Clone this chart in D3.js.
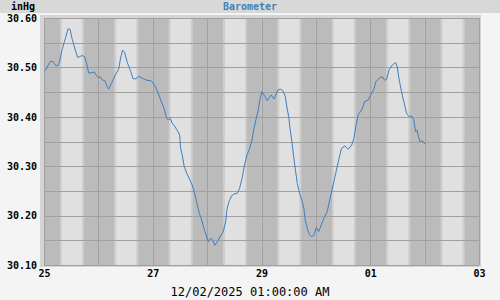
<!DOCTYPE html>
<html>
<head>
<meta charset="utf-8">
<script src="https://cdn.jsdelivr.net/npm/d3@7"></script>
<style>
    body { margin: 0; background: #f4f4f4; }
    svg { display: block; }
    text { font-family: "DejaVu Sans Mono", monospace; }
</style>
</head>
<body>
<svg id="barometer_root" width="500" height="300"></svg>
<script>
// hours after 25 Nov 2025 00:00 and the reading at that moment
var hours = [0.6, 2.8, 4.0, 5.0, 6.0, 6.8, 7.9, 9.4, 10.6, 11.5, 12.4, 13.8, 14.9, 15.8, 16.8, 18.0,
    18.8, 19.7, 21.2, 22.2, 23.1, 24.1, 24.8, 25.9, 26.8, 27.8, 28.5, 30.0, 31.5, 33.0, 33.8, 34.7,
    35.6, 36.6, 38.1, 39.3, 40.6, 41.8, 43.0, 45.3, 47.2, 48.2, 49.4, 50.4, 51.5, 52.4, 53.4, 54.1,
    54.8, 55.7, 56.6, 57.8, 59.0, 59.9, 60.3, 61.0, 61.9, 63.0, 64.4, 65.4, 66.3, 67.4, 68.5, 69.6,
    70.6, 71.5, 72.5, 73.4, 74.4, 75.4, 76.5, 77.6, 79.1, 80.2, 80.7, 81.6, 82.8, 84.0, 85.3, 86.3,
    87.4, 88.5, 89.6, 90.8, 91.8, 92.7, 93.7, 94.7, 95.4, 96.2, 97.4, 98.5, 99.6, 100.3, 101.5, 102.5,
    103.2, 104.3, 105.4, 106.5, 107.2, 108.0, 108.7, 109.4, 110.2, 111.0, 111.8, 112.8, 113.8, 114.7,
    115.3, 116.2, 117.2, 118.0, 119.0, 120.2, 121.3, 123.2, 125.0, 126.9, 128.1, 129.4, 130.6, 131.3,
    132.8, 134.3, 135.8, 136.8, 137.7, 138.7, 140.2, 141.6, 143.1, 144.6, 145.6, 146.5, 147.9, 149.3,
    150.4, 151.2, 152.3, 153.8, 155.2, 155.9, 156.8, 157.8, 158.8, 160.0, 161.2, 162.2, 163.2, 164.0,
    164.7, 165.1, 165.9, 167.1, 168.1];
var inHg = [30.494, 30.512, 30.512, 30.505, 30.503, 30.510, 30.535, 30.558, 30.578, 30.577, 30.558,
    30.535, 30.520, 30.522, 30.524, 30.521, 30.508, 30.489, 30.489, 30.491, 30.484, 30.479, 30.481,
    30.474, 30.474, 30.462, 30.456, 30.470, 30.485, 30.497, 30.519, 30.535, 30.530, 30.512, 30.494,
    30.477, 30.477, 30.482, 30.479, 30.474, 30.473, 30.468, 30.458, 30.448, 30.434, 30.424, 30.410,
    30.397, 30.394, 30.397, 30.387, 30.380, 30.371, 30.363, 30.336, 30.323, 30.299, 30.286, 30.272,
    30.262, 30.248, 30.228, 30.205, 30.191, 30.174, 30.161, 30.147, 30.154, 30.151, 30.140, 30.147,
    30.157, 30.167, 30.188, 30.211, 30.228, 30.240, 30.244, 30.245, 30.255, 30.275, 30.302, 30.323,
    30.336, 30.353, 30.377, 30.397, 30.417, 30.437, 30.451, 30.442, 30.433, 30.440, 30.444, 30.436,
    30.446, 30.454, 30.456, 30.453, 30.441, 30.420, 30.400, 30.373, 30.350, 30.319, 30.292, 30.265,
    30.245, 30.232, 30.215, 30.191, 30.174, 30.161, 30.158, 30.159, 30.176, 30.168, 30.191, 30.208,
    30.248, 30.272, 30.299, 30.323, 30.336, 30.341, 30.334, 30.343, 30.356, 30.383, 30.404, 30.414,
    30.431, 30.434, 30.448, 30.456, 30.471, 30.478, 30.481, 30.474, 30.476, 30.495, 30.505, 30.510,
    30.501, 30.474, 30.451, 30.431, 30.407, 30.400, 30.402, 30.394, 30.370, 30.373, 30.363, 30.350,
    30.351, 30.345];

var yTicks = [30.10, 30.20, 30.30, 30.40, 30.50, 30.60];
var xTickDays = [25, 27, 29, 31, 33];     // days counted from 1 Nov, 31 = 01 Dec
// hour of day for dawn, sunrise, sunset, dusk
var twilight = [7.1, 7.9, 16.8, 17.6];

var chartTitle = "Barometer";
var unitLabel = "inHg";
var timeLabel = "12/02/2025 01:00:00 AM";

var margin_left = 44, margin_top = 18, plot_right = 479, plot_bottom = 265;

var start = new Date(2025, 10, 25);
var end = new Date(2025, 11, 3);
function at(dayOffset, hour) {
    return new Date(2025, 10, 25 + dayOffset, 0, 0, 0, 0).getTime() + hour * 3600e3;
}

var svg = d3.select('#barometer_root');

// header strip
svg.append("rect").attr("x", 0).attr("y", 0).attr("width", 500).attr("height", 13).attr("fill", "#d8d8d8");
svg.append("text").attr("x", 11).attr("y", 10)
    .attr("font-size", 10).attr("font-weight", "bold").attr("fill", "#000")
    .text(unitLabel);
svg.append("text").attr("x", 250).attr("y", 10).attr("text-anchor", "middle")
    .attr("font-size", 10).attr("font-weight", "bold").attr("fill", "#4682b4")
    .text(chartTitle);

// frame around the plot
svg.append("rect").attr("x", 40).attr("y", 15).attr("width", 441).attr("height", 252).attr("fill", "#d4d4d4");

var x = d3.scaleTime()
    .domain([start, end])
    .range([margin_left, plot_right]);
var y = d3.scaleLinear()
    .domain([30.10, 30.60])
    .range([plot_bottom, margin_top]);

var plot = svg.append("g");
plot.append("clipPath").attr("id", "plot_clip")
    .append("rect").attr("x", margin_left).attr("y", margin_top)
    .attr("width", plot_right - margin_left).attr("height", plot_bottom - margin_top);

// night / twilight / day bands
var bands = [];
for (var d = -1; d < 9; d++) {
    bands.push({from: at(d, 0), to: at(d, twilight[0]), fill: "#bbbbbb"});
    bands.push({from: at(d, twilight[0]), to: at(d, twilight[1]), fill: "#cecece"});
    bands.push({from: at(d, twilight[1]), to: at(d, twilight[2]), fill: "#e0e0e0"});
    bands.push({from: at(d, twilight[2]), to: at(d, twilight[3]), fill: "#cecece"});
    bands.push({from: at(d, twilight[3]), to: at(d, 24), fill: "#bbbbbb"});
}
plot.append("g").attr("clip-path", "url(#plot_clip)")
    .selectAll("rect")
    .data(bands)
    .enter()
    .append("rect")
    .attr("x", function(b) { return x(b.from); })
    .attr("width", function(b) { return x(b.to) - x(b.from); })
    .attr("y", margin_top)
    .attr("height", plot_bottom - margin_top)
    .attr("fill", function(b) { return b.fill; });

// grid: one vertical line per day, horizontal every 0.05
var gridDays = d3.timeDay.range(start, d3.timeDay.offset(end, 1));
plot.append("g").selectAll("line")
    .data(gridDays)
    .enter()
    .append("line")
    .attr("x1", function(d) { return Math.round(x(d)) + 0.5; })
    .attr("x2", function(d) { return Math.round(x(d)) + 0.5; })
    .attr("y1", margin_top).attr("y2", plot_bottom)
    .attr("stroke", "#a0a0a0");
plot.append("g").selectAll("line")
    .data(d3.range(0, 11))
    .enter()
    .append("line")
    .attr("x1", margin_left).attr("x2", plot_right)
    .attr("y1", function(i) { return Math.round(y(30.10 + i * 0.05)) + 0.5; })
    .attr("y2", function(i) { return Math.round(y(30.10 + i * 0.05)) + 0.5; })
    .attr("stroke", "#a0a0a0");

// y labels
var yAxis = svg.append("g")
    .attr("transform", "translate(" + margin_left + ",0)")
    .call(d3.axisLeft(y).tickValues(yTicks).tickSize(0).tickPadding(7)
        .tickFormat(d3.format(".2f")));
yAxis.select(".domain").remove();
yAxis.selectAll(".tick text")
    .attr("font-family", "DejaVu Sans Mono").attr("font-size", 10)
    .attr("font-weight", "bold").attr("fill", "#000");

// x labels
var xAxis = svg.append("g")
    .attr("transform", "translate(0," + plot_bottom + ")")
    .call(d3.axisBottom(x)
        .tickValues(xTickDays.map(function(d) { return new Date(2025, 10, d); }))
        .tickSize(0).tickPadding(5)
        .tickFormat(d3.timeFormat("%d")));
xAxis.select(".domain").remove();
xAxis.selectAll(".tick text")
    .attr("font-family", "DejaVu Sans Mono").attr("font-size", 10)
    .attr("font-weight", "bold").attr("fill", "#000");

svg.append("text").attr("x", 250).attr("y", 296).attr("text-anchor", "middle")
    .attr("font-size", 12).attr("fill", "#000")
    .text(timeLabel);

// the barometer trace
var points = hours.map(function(h, i) { return {t: new Date(start.getTime() + h * 3600e3), v: inHg[i]}; });
svg.append("path")
    .datum(points)
    .attr("fill", "none")
    .attr("stroke", "#3a7fc2")
    .attr("stroke-width", 1)
    .attr("d", d3.line()
        .x(function(d) { return x(d.t); })
        .y(function(d) { return y(d.v); }));
</script>
</body>
</html>
